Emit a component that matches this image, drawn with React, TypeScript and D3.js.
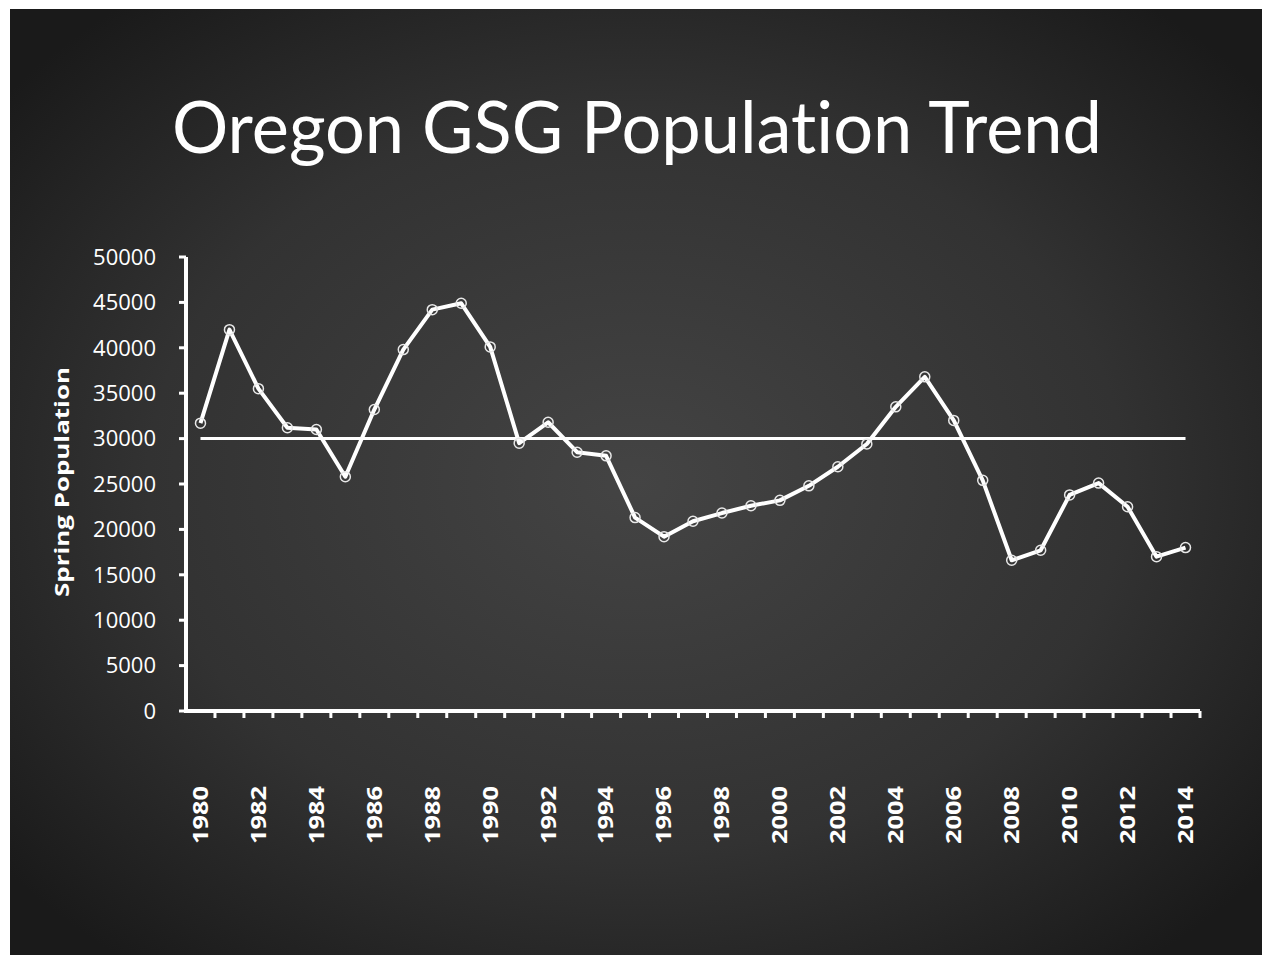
import React from "react";
import * as d3 from "d3";

const years: number[] = [
  1980, 1981, 1982, 1983, 1984, 1985, 1986, 1987, 1988, 1989, 1990, 1991,
  1992, 1993, 1994, 1995, 1996, 1997, 1998, 1999, 2000, 2001, 2002, 2003,
  2004, 2005, 2006, 2007, 2008, 2009, 2010, 2011, 2012, 2013, 2014,
];
const population: number[] = [
  31700, 42000, 35500, 31200, 31000, 25800, 33200, 39800, 44200, 44900, 40100,
  29500, 31800, 28500, 28100, 21300, 19200, 20900, 21800, 22600, 23200, 24800,
  26900, 29400, 33500, 36800, 32000, 25400, 16600, 17700, 23800, 25100, 22500,
  17000, 18000,
];
const targetLevel = 30000;
const yTicks: number[] = [0, 5000, 10000, 15000, 20000, 25000, 30000, 35000, 40000, 45000, 50000];
const xTickLabels: number[] = [1980, 1982, 1984, 1986, 1988, 1990, 1992, 1994, 1996, 1998, 2000, 2002, 2004, 2006, 2008, 2010, 2012, 2014];
const title = "Oregon GSG Population Trend";
const yTitle = "Spring Population";

export default function App() {
  const W = 1262;
  const H = 955;
  const left = 186;
  const right = 1200;
  const top = 257;
  const bottom = 711;

  const x = d3.scaleBand<number>().domain(years).range([left, right]).paddingInner(0).paddingOuter(0);
  const y = d3.scaleLinear().domain([0, 50000]).range([bottom, top]);
  const cx = (yr: number) => (x(yr) as number) + x.bandwidth() / 2;

  const line = d3
    .line<number>()
    .x((_, i) => cx(years[i]))
    .y((d) => y(d));

  const font = "'Open Sans', 'DejaVu Sans', sans-serif";

  return (
    <svg
      width={W}
      height={H}
      style={{ position: "absolute", left: 0, top: 0, background: "#fff" }}
    >
      <defs>
        <radialGradient id="bg" cx="50%" cy="50%" r="65%">
          <stop offset="0%" stopColor="#444444" />
          <stop offset="60%" stopColor="#323232" />
          <stop offset="100%" stopColor="#1a1a1a" />
        </radialGradient>
      </defs>
      <rect x={10} y={9} width={W - 10} height={H - 9} fill="url(#bg)" />

      <text
        x={637}
        y={153}
        fill="#fff"
        fontFamily="Lato, 'Open Sans', sans-serif"
        fontSize={72}
        textAnchor="middle"
        textLength={930}
        lengthAdjust="spacingAndGlyphs"
        style={{ fontVariantLigatures: "none" }}
      >
        {title}
      </text>

      {/* y axis */}
      <line x1={left} x2={left} y1={top} y2={bottom + 2} stroke="#fff" strokeWidth={4} />
      {yTicks.map((t) => (
        <g key={t}>
          <line x1={left - 7} x2={left} y1={y(t)} y2={y(t)} stroke="#fff" strokeWidth={3} />
          <text
            x={156}
            y={y(t)}
            dy="0.35em"
            fill="#fff"
            fontFamily={font}
            fontSize={22}
            textAnchor="end"
          >
            {t}
          </text>
        </g>
      ))}
      <text
        transform={`translate(62, 482) rotate(-90)`}
        dy="0.35em"
        fill="#fff"
        fontFamily={font}
        fontSize={19}
        fontWeight="bold"
        textAnchor="middle"
        textLength={230}
        lengthAdjust="spacingAndGlyphs"
      >
        {yTitle}
      </text>

      {/* x axis */}
      <line x1={left - 2} x2={right} y1={bottom} y2={bottom} stroke="#fff" strokeWidth={4} />
      {years.map((yr) => (
        <line
          key={yr}
          x1={(x(yr) as number) + x.bandwidth()}
          x2={(x(yr) as number) + x.bandwidth()}
          y1={bottom}
          y2={bottom + 7}
          stroke="#fff"
          strokeWidth={3}
        />
      ))}
      {xTickLabels.map((yr) => (
        <text
          key={yr}
          transform={`translate(${cx(yr)}, 815) rotate(-90)`}
          dy="0.35em"
          fill="#fff"
          fontFamily={font}
          fontSize={21}
          fontWeight="bold"
          textAnchor="middle"
          textLength={58}
          lengthAdjust="spacingAndGlyphs"
        >
          {yr}
        </text>
      ))}

      {/* target line */}
      <line
        x1={cx(years[0])}
        x2={cx(years[years.length - 1])}
        y1={y(targetLevel)}
        y2={y(targetLevel)}
        stroke="#fff"
        strokeWidth={3}
      />

      {/* population line */}
      <path d={line(population) || ""} fill="none" stroke="#fff" strokeWidth={4} strokeLinejoin="round" />
      {population.map((v, i) => (
        <circle
          key={years[i]}
          cx={cx(years[i])}
          cy={y(v)}
          r={5}
          fill="none"
          stroke="#e8e8e8"
          strokeWidth={1.5}
        />
      ))}
    </svg>
  );
}
